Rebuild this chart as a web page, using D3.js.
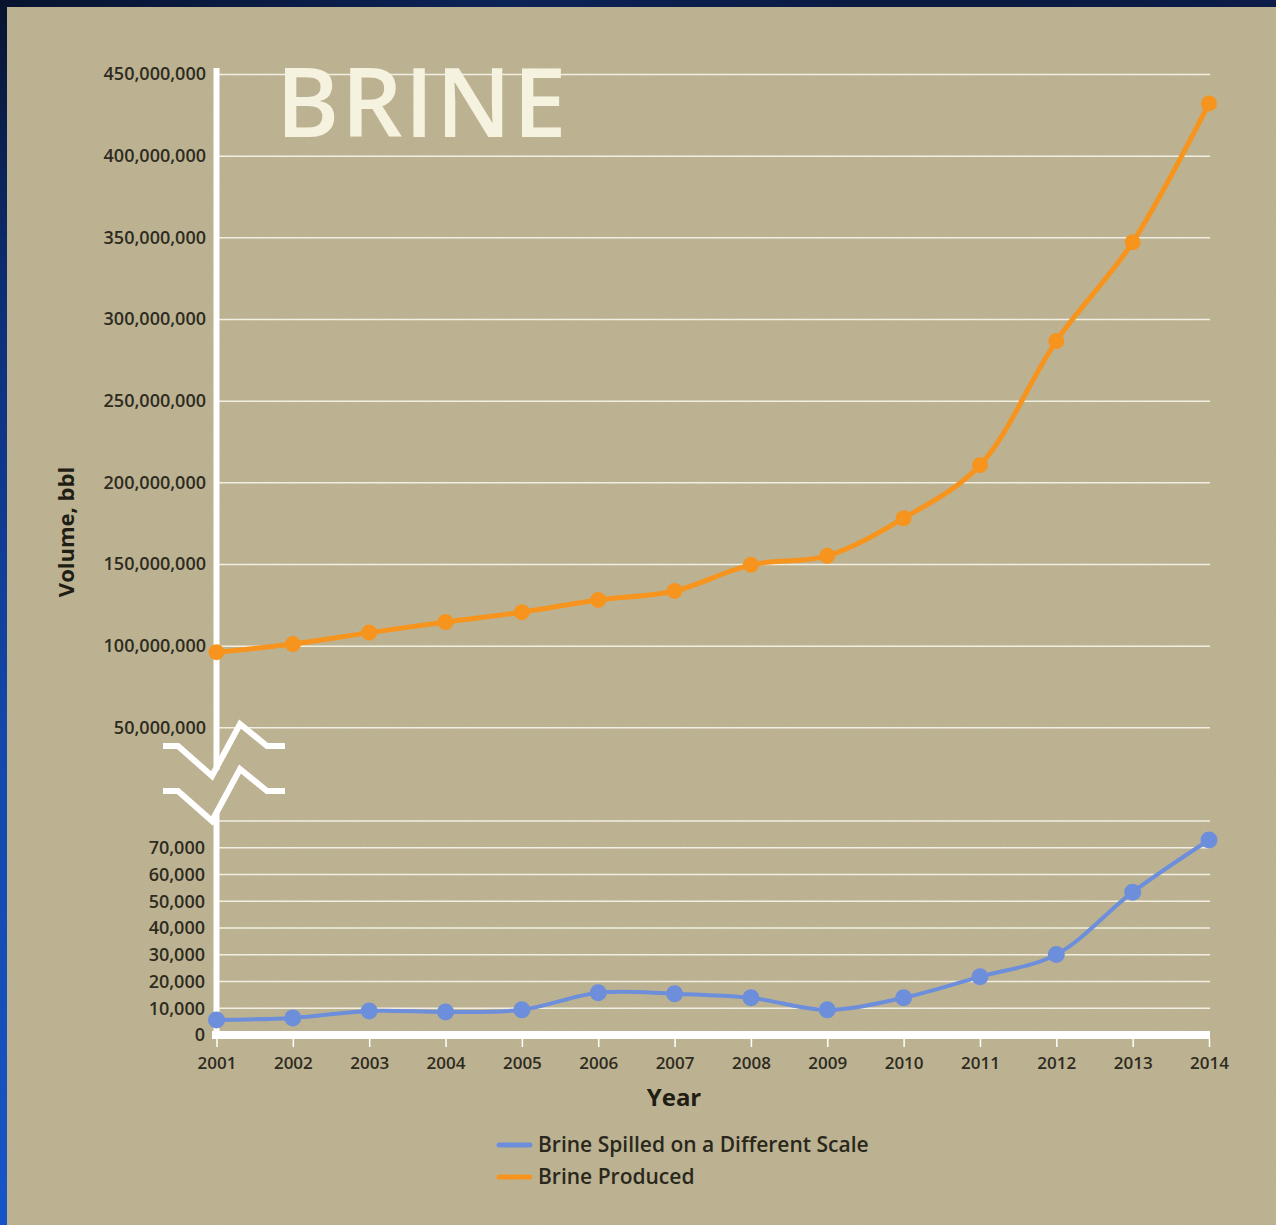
<!DOCTYPE html>
<html>
<head>
<meta charset="utf-8">
<script src="https://cdn.jsdelivr.net/npm/d3@7"></script>
<style>
  html, body { margin: 0; padding: 0; background: #bdb493; }
  svg { display: block; }
  text { font-family: "Open Sans", "Noto Sans", sans-serif; }
</style>
</head>
<body>
<svg id="chart" width="1276" height="1225"></svg>
<script>
// ---- data ----
const years = [2001, 2002, 2003, 2004, 2005, 2006, 2007, 2008, 2009, 2010, 2011, 2012, 2013, 2014];
const brineProduced = [96e6, 101e6, 108e6, 114.5e6, 120.5e6, 128e6, 133.5e6, 149.5e6, 155e6, 178e6, 210.5e6, 286.5e6, 347e6, 432e6];
const brineSpilled = [5600, 6400, 9000, 8600, 9400, 15800, 15400, 13900, 9400, 13900, 21800, 30100, 53400, 72900];
const producedTicks = [50e6, 100e6, 150e6, 200e6, 250e6, 300e6, 350e6, 400e6, 450e6];
const spilledTicks = [0, 10000, 20000, 30000, 40000, 50000, 60000, 70000];
const spilledGrid = [10000, 20000, 30000, 40000, 50000, 60000, 70000, 80000];
const seriesNames = ["Brine Spilled on a Different Scale", "Brine Produced"];

// ---- styling ----
const BG = "#bdb392";
const GRID = "#f1efe2";
const AXIS = "#ffffff";
const TEXT = "#2e2b1f";
const ORANGE = "#f7941e";
const BLUE = "#6d8edb";

const svg = d3.select("#chart");

// frame: dark blue edge on the left and top
const defs = svg.append("defs");
const gl = defs.append("linearGradient").attr("id", "edgeLeft").attr("x1", 0).attr("y1", 0).attr("x2", 0).attr("y2", 1);
gl.append("stop").attr("offset", "0%").attr("stop-color", "#08142e");
gl.append("stop").attr("offset", "25%").attr("stop-color", "#0d2f78");
gl.append("stop").attr("offset", "60%").attr("stop-color", "#1347aa");
gl.append("stop").attr("offset", "100%").attr("stop-color", "#1755c6");
const gt = defs.append("linearGradient").attr("id", "edgeTop").attr("x1", 0).attr("y1", 0).attr("x2", 1).attr("y2", 0);
gt.append("stop").attr("offset", "0%").attr("stop-color", "#08142e");
gt.append("stop").attr("offset", "40%").attr("stop-color", "#0c2358");
gt.append("stop").attr("offset", "70%").attr("stop-color", "#0a1a40");
gt.append("stop").attr("offset", "100%").attr("stop-color", "#0b1d48");

// paper grain for the backdrop
const grain = defs.append("filter").attr("id", "grain").attr("x", 0).attr("y", 0).attr("width", 1).attr("height", 1);
grain.append("feTurbulence").attr("type", "fractalNoise").attr("baseFrequency", 0.8).attr("numOctaves", 2).attr("seed", 3).attr("result", "noise");
grain.append("feColorMatrix").attr("in", "noise").attr("type", "matrix")
  .attr("values", "0 0 0 0 0.35  0 0 0 0 0.33  0 0 0 0 0.25  0 0 0 -0.9 0.55");

svg.append("rect").attr("width", 1276).attr("height", 1225).attr("fill", BG);
svg.append("rect").attr("width", 1276).attr("height", 1225).attr("filter", "url(#grain)").attr("opacity", 0.35);
svg.append("rect").attr("x", 0).attr("y", 0).attr("width", 7).attr("height", 1225).attr("fill", "url(#edgeLeft)");
svg.append("rect").attr("x", 0).attr("y", 0).attr("width", 1276).attr("height", 7).attr("fill", "url(#edgeTop)");

// ---- scales ----
const x = d3.scaleLinear().domain([2001, 2014]).range([216.5, 1209]);
const yTop = d3.scaleLinear().domain([0, 450e6]).range([809, 74]);
const yBot = d3.scaleLinear().domain([0, 80000]).range([1035, 821]);
const gridLeft = 219, gridRight = 1210;
const axisX = 216.5;

// ---- upper panel: gridlines + labels ----
const topAxis = svg.append("g")
  .attr("transform", `translate(${gridLeft},0)`)
  .call(d3.axisLeft(yTop).tickValues(producedTicks).tickFormat(d3.format(","))
    .tickSizeInner(-(gridRight - gridLeft)).tickSizeOuter(0).tickPadding(13));
topAxis.select(".domain").remove();
topAxis.selectAll(".tick line").attr("stroke", GRID).attr("stroke-width", 1.5);
topAxis.selectAll(".tick text").attr("fill", TEXT).attr("font-size", 18).attr("font-weight", 600)
  .attr("font-family", "'Open Sans', sans-serif");

// ---- lower panel: gridlines + labels ----
svg.append("g").selectAll("line").data(spilledGrid).join("line")
  .attr("x1", gridLeft).attr("x2", gridRight)
  .attr("y1", d => yBot(d)).attr("y2", d => yBot(d))
  .attr("stroke", GRID).attr("stroke-width", 1.5);
const botAxis = svg.append("g")
  .attr("transform", `translate(${gridLeft},0)`)
  .call(d3.axisLeft(yBot).tickValues(spilledTicks).tickFormat(d3.format(","))
    .tickSize(0).tickPadding(14));
botAxis.select(".domain").remove();
botAxis.selectAll(".tick text").attr("fill", TEXT).attr("font-size", 18).attr("font-weight", 600)
  .attr("font-family", "'Open Sans', sans-serif");

// title
svg.append("text").attr("x", 276).attr("y", 137)
  .attr("font-size", 96).attr("fill", "#f5f2df").attr("font-weight", 600)
  .attr("letter-spacing", 2)
  .text("BRINE");

// ---- axes (thick white) ----
const yTopEnd = yTop(450e6) - 6;
// upper vertical axis runs down into the break mark
svg.append("line").attr("x1", axisX).attr("x2", axisX).attr("y1", yTopEnd).attr("y2", 770)
  .attr("stroke", AXIS).attr("stroke-width", 6);
// lower vertical axis
svg.append("line").attr("x1", axisX).attr("x2", axisX).attr("y1", 812).attr("y2", yBot(0) + 4)
  .attr("stroke", AXIS).attr("stroke-width", 6);

// scale-break marks
const breakShape = (y0) => [
  [163, y0], [178, y0], [212, y0 + 30], [240, y0 - 22], [267, y0], [285, y0]
];
[746, 791].forEach(y0 => {
  svg.append("polyline")
    .attr("points", breakShape(y0).map(p => p.join(",")).join(" "))
    .attr("fill", "none").attr("stroke", AXIS).attr("stroke-width", 6)
    .attr("stroke-linejoin", "miter");
});

// bottom axis
svg.append("line").attr("x1", 212).attr("x2", gridRight).attr("y1", yBot(0)).attr("y2", yBot(0))
  .attr("stroke", AXIS).attr("stroke-width", 8);
const xAxis = svg.append("g")
  .attr("transform", `translate(0,${yBot(0) + 4})`)
  .call(d3.axisBottom(x).tickValues(years).tickFormat(d3.format("d")).tickSize(8).tickPadding(10));
xAxis.select(".domain").remove();
xAxis.selectAll(".tick line").attr("stroke", AXIS).attr("stroke-width", 1.5);
xAxis.selectAll(".tick text").attr("fill", TEXT).attr("font-size", 17).attr("font-weight", 600)
  .attr("font-family", "'Open Sans', sans-serif");

// axis titles
svg.append("text").attr("transform", "translate(74,532) rotate(-90)")
  .attr("text-anchor", "middle").attr("font-size", 22).attr("font-weight", 700).attr("fill", "#1f1d14")
  .text("Volume, bbl");
svg.append("text").attr("x", 674).attr("y", 1106)
  .attr("text-anchor", "middle").attr("font-size", 24).attr("font-weight", 700).attr("fill", "#1f1d14")
  .text("Year");

// ---- series ----
const curve = d3.curveCatmullRom.alpha(0.5);
const produced = years.map((yr, i) => ({ yr, v: brineProduced[i] }));
const spilled = years.map((yr, i) => ({ yr, v: brineSpilled[i] }));

svg.append("path").datum(produced)
  .attr("fill", "none").attr("stroke", ORANGE).attr("stroke-width", 5).attr("stroke-linejoin", "round")
  .attr("d", d3.line().x(d => x(d.yr)).y(d => yTop(d.v)).curve(curve));
svg.append("g").selectAll("circle").data(produced).join("circle")
  .attr("cx", d => x(d.yr)).attr("cy", d => yTop(d.v)).attr("r", 8).attr("fill", ORANGE);

svg.append("path").datum(spilled)
  .attr("fill", "none").attr("stroke", BLUE).attr("stroke-width", 4).attr("stroke-linejoin", "round")
  .attr("d", d3.line().x(d => x(d.yr)).y(d => yBot(d.v)).curve(curve));
svg.append("g").selectAll("circle").data(spilled).join("circle")
  .attr("cx", d => x(d.yr)).attr("cy", d => yBot(d.v)).attr("r", 8.5).attr("fill", BLUE);

// ---- legend ----
const legend = svg.append("g").attr("transform", "translate(497,1145)");
[BLUE, ORANGE].forEach((c, i) => {
  const g = legend.append("g").attr("transform", `translate(0,${i * 32})`);
  g.append("line").attr("x1", 2).attr("x2", 33).attr("y1", 0).attr("y2", 0)
    .attr("stroke", c).attr("stroke-width", 5).attr("stroke-linecap", "round");
  g.append("text").attr("x", 41).attr("y", 7).attr("font-size", 21).attr("font-weight", 600)
    .attr("fill", "#2a281c").text(seriesNames[i]);
});
</script>
</body>
</html>
